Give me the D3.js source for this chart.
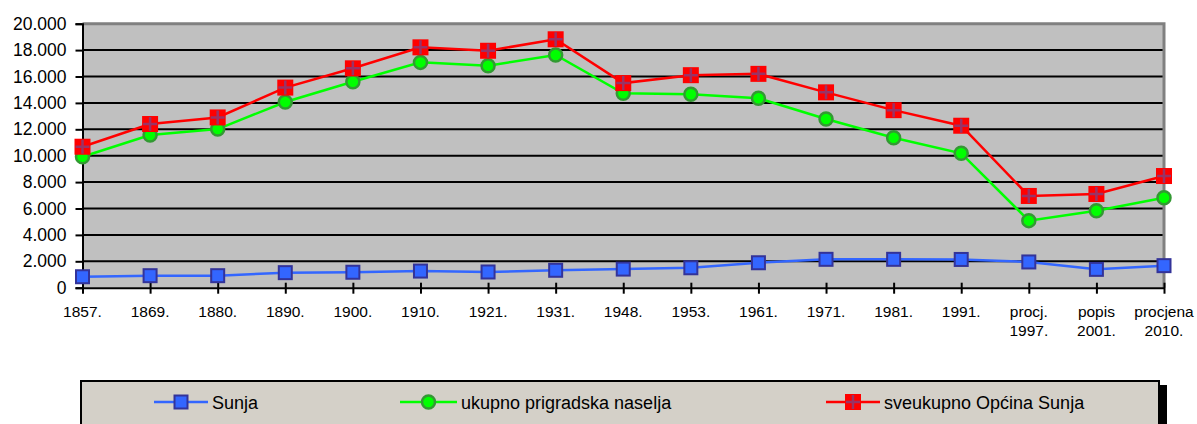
<!DOCTYPE html>
<html>
<head>
<meta charset="utf-8">
<script src="https://cdn.jsdelivr.net/npm/d3@7"></script>
<style>
  body { margin: 0; background: #fff; }
  svg { display: block; font-family: "Liberation Sans", Arial, sans-serif; }
</style>
</head>
<body>
<div id="chart"></div>
<script>
// categories (year labels, some on two lines)
var years = [["1857."], ["1869."], ["1880."], ["1890."], ["1900."], ["1910."], ["1921."], ["1931."],
  ["1948."], ["1953."], ["1961."], ["1971."], ["1981."], ["1991."],
  ["procj.", "1997."], ["popis", "2001."], ["procjena", "2010."]];

var sunja = [830, 910, 910, 1140, 1170, 1260, 1190, 1320, 1410, 1510, 1890, 2150, 2150, 2140, 1950, 1390, 1670];
var prigradska = [9920, 11570, 12020, 14070, 15600, 17070, 16820, 17630, 14730, 14650, 14350, 12780, 11360, 10180, 5080, 5830, 6820];
var sveukupno = [10680, 12400, 12900, 15160, 16620, 18210, 17950, 18820, 15500, 16100, 16200, 14800, 13450, 12270, 6950, 7100, 8460];

var yTicks = [0, 2000, 4000, 6000, 8000, 10000, 12000, 14000, 16000, 18000, 20000];
var seriesNames = ["Sunja", "ukupno prigradska naselja", "sveukupno Općina Sunja"];

var W = 1197, H = 424;
var plot = {left: 82.5, right: 1164, top: 23.7, bottom: 287.7};

var svg = d3.select("#chart").append("svg")
    .attr("width", W)
    .attr("height", H);

var keys = years.map(function(d, i) { return i; });
var x = d3.scalePoint().domain(keys).range([plot.left, plot.right]);
var y = d3.scaleLinear().domain([0, 20000]).range([plot.bottom, plot.top]);

var fmt = function(v) { return d3.format(",")(v).replace(/,/g, "."); };

// plot background
svg.append("rect")
    .attr("x", plot.left).attr("y", plot.top)
    .attr("width", plot.right - plot.left)
    .attr("height", plot.bottom - plot.top)
    .attr("fill", "#C0C0C0");

// grid lines
svg.append("g")
    .selectAll("line")
    .data(yTicks.slice(1, -1))
    .enter()
  .append("line")
    .attr("x1", plot.left).attr("x2", plot.right)
    .attr("y1", function(d) { return y(d); })
    .attr("y2", function(d) { return y(d); })
    .attr("stroke", "#000")
    .attr("stroke-width", 2);

// gray frame top/right
svg.append("path")
    .attr("d", "M" + plot.left + "," + plot.top + "H" + plot.right + "V" + plot.bottom)
    .attr("fill", "none")
    .attr("stroke", "#808080")
    .attr("stroke-width", 3);

// y axis
var yAxis = svg.append("g")
    .attr("transform", "translate(" + plot.left + ",0)")
    .call(d3.axisLeft(y).tickValues(yTicks).tickFormat(fmt).tickSize(7).tickPadding(9));
yAxis.select(".domain").attr("stroke", "#000").attr("stroke-width", 2);
yAxis.selectAll(".tick line").attr("stroke", "#000").attr("stroke-width", 2);
yAxis.selectAll("text").attr("font-size", "17.5px").attr("fill", "#000")
    .attr("font-family", "Liberation Sans, Arial, sans-serif");

// x axis
var xAxis = svg.append("g")
    .attr("transform", "translate(0," + plot.bottom + ")")
    .call(d3.axisBottom(x).tickSizeInner(6).tickSizeOuter(0).tickFormat(""));
xAxis.select(".domain").attr("stroke", "#000").attr("stroke-width", 2);
xAxis.selectAll(".tick line").attr("stroke", "#000").attr("stroke-width", 2).attr("y1", -5);

var xl = svg.append("g")
    .selectAll("text")
    .data(years)
    .enter()
  .append("text")
    .attr("text-anchor", "middle")
    .attr("font-size", "15.5px")
    .attr("fill", "#000")
    .attr("transform", function(d, i) { return "translate(" + x(i) + ",317)"; });
xl.selectAll("tspan")
    .data(function(d) { return d; })
    .enter()
  .append("tspan")
    .attr("x", 0)
    .attr("y", function(d, j) { return j * 19; })
    .text(function(d) { return d; });

// lines
var line = d3.line()
    .x(function(d, i) { return x(i); })
    .y(function(d) { return y(d); });

function drawSeries(vals, color, width) {
  svg.append("path")
      .datum(vals)
      .attr("d", line)
      .attr("fill", "none")
      .attr("stroke", color)
      .attr("stroke-width", width);
}

function squareMarker(g, size, fill, stroke, sw) {
  g.append("rect")
      .attr("x", -size / 2).attr("y", -size / 2)
      .attr("width", size).attr("height", size)
      .attr("fill", fill)
      .attr("stroke", stroke)
      .attr("stroke-width", sw);
}
function circleMarker(g) {
  g.append("circle")
      .attr("r", 6.5)
      .attr("fill", "#00FF00")
      .attr("stroke", "#339933")
      .attr("stroke-width", 2.5);
}
function plusMarker(g) {
  squareMarker(g, 16, "#FF0000", "none", 0);
  g.append("path")
      .attr("d", "M-7,0H7M0,-7V7")
      .attr("stroke", "#993366")
      .attr("stroke-width", 2.5);
}

function drawMarkers(vals, fn) {
  svg.append("g")
      .selectAll("g")
      .data(vals)
      .enter()
    .append("g")
      .attr("transform", function(d, i) { return "translate(" + x(i) + "," + y(d) + ")"; })
      .each(function() { fn(d3.select(this)); });
}

function blueMarker(g) { squareMarker(g, 13, "#3366FF", "#333399", 2); }

drawSeries(sunja, "#3366FF", 2.5);
drawMarkers(sunja, blueMarker);
drawSeries(prigradska, "#00FF00", 2.5);
drawMarkers(prigradska, circleMarker);
drawSeries(sveukupno, "#FF0000", 2.5);
drawMarkers(sveukupno, plusMarker);

// legend
var lg = svg.append("g");
lg.append("rect")
    .attr("x", 1159).attr("y", 385)
    .attr("width", 8).attr("height", 50)
    .attr("fill", "#000");
lg.append("rect")
    .attr("x", 81).attr("y", 381)
    .attr("width", 1078).attr("height", 60)
    .attr("fill", "#D4D0C8")
    .attr("stroke", "#000")
    .attr("stroke-width", 2);

var legendItems = [
  {name: seriesNames[0], color: "#3366FF", x1: 154, x2: 208, marker: blueMarker},
  {name: seriesNames[1], color: "#00FF00", x1: 400, x2: 457, marker: circleMarker},
  {name: seriesNames[2], color: "#FF0000", x1: 826, x2: 880, marker: plusMarker}
];
legendItems.forEach(function(it) {
  var ly = 402;
  lg.append("line")
      .attr("x1", it.x1).attr("x2", it.x2)
      .attr("y1", ly).attr("y2", ly)
      .attr("stroke", it.color)
      .attr("stroke-width", 2.5);
  var m = lg.append("g").attr("transform", "translate(" + ((it.x1 + it.x2) / 2) + "," + ly + ")");
  it.marker(m);
  lg.append("text")
      .attr("x", it.x2 + 4)
      .attr("y", ly + 6.5)
      .attr("font-size", "18px")
      .attr("fill", "#000")
      .text(it.name);
});
</script>
</body>
</html>
